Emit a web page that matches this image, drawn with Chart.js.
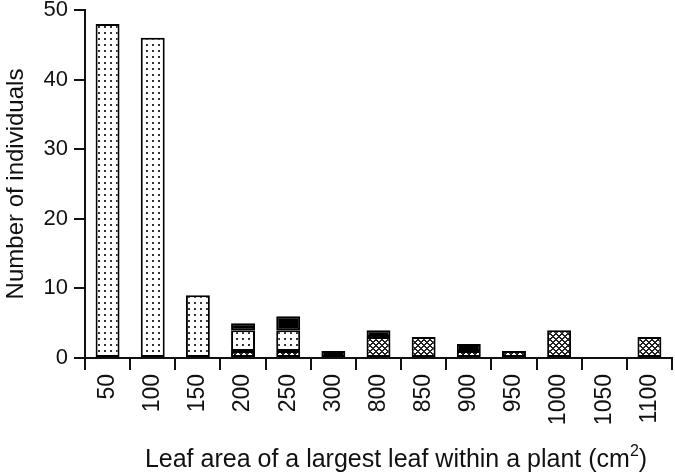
<!DOCTYPE html>
<html>
<head>
<meta charset="utf-8">
<script src="https://cdn.jsdelivr.net/npm/chart.js@4/dist/chart.umd.min.js"></script>
<style>
  html, body { margin: 0; padding: 0; background: #fff; }
  #wrap { width: 675px; height: 474px; }
</style>
</head>
<body>
<div id="wrap"><canvas id="c" width="675" height="474"></canvas></div>
<script>
var categories = ["50", "100", "150", "200", "250", "300", "800", "850", "900", "950", "1000", "1050", "1100"];
var crossData  = [0, 0, 0, 1, 1, 0, 3, 3, 1, 1, 4, 0, 3];
var dotData    = [48, 46, 9, 3, 3, 0, 0, 0, 0, 0, 0, 0, 0];
var blackData  = [0, 0, 0, 1, 2, 1, 1, 0, 1, 0, 0, 0, 0];
var yTicks     = [0, 10, 20, 30, 40, 50];

var ctx = document.getElementById("c").getContext("2d");
var fontFam = "'Liberation Sans', Arial, sans-serif";

// empty segments should not draw a flat box
function noZero(arr) {
  return arr.map(function(v) { return v === 0 ? null : v; });
}

// small tiles for the bar fills
function makeDots() {
  var t = document.createElement("canvas");
  t.width = 6; t.height = 6;
  var g = t.getContext("2d");
  g.fillStyle = "#fff";
  g.fillRect(0, 0, 6, 6);
  g.fillStyle = "#333";
  g.fillRect(2, 2, 2, 2);
  return ctx.createPattern(t, "repeat");
}
function makeCross() {
  var t = document.createElement("canvas");
  t.width = 6; t.height = 6;
  var g = t.getContext("2d");
  g.fillStyle = "#fff";
  g.fillRect(0, 0, 6, 6);
  g.fillStyle = "#222";
  for (var x = 0; x < 6; x++) {
    for (var y = 0; y < 6; y++) {
      var a = (x + y) % 6, b = (x - y + 6) % 6;
      if (a < 2 || b < 2) g.fillRect(x, y, 1, 1);
    }
  }
  return ctx.createPattern(t, "repeat");
}

// x title with superscript
var xTitle = {
  id: "xTitle",
  afterDraw: function(chart) {
    var c = chart.ctx;
    var main = "Leaf area of a largest leaf within a plant (cm";
    c.save();
    c.fillStyle = "#111";
    c.textBaseline = "alphabetic";
    c.font = "25px " + fontFam;
    var w1 = c.measureText(main).width;
    c.font = "16px " + fontFam;
    var w2 = c.measureText("2").width;
    c.font = "25px " + fontFam;
    var w3 = c.measureText(")").width;
    var x = 396 - (w1 + w2 + w3) / 2;
    var y = 467;
    c.fillText(main, x, y);
    c.font = "16px " + fontFam;
    c.fillText("2", x + w1, y - 11);
    c.font = "25px " + fontFam;
    c.fillText(")", x + w1 + w2, y);
    c.restore();
  }
};

var chart = new Chart(ctx, {
  type: "bar",
  data: {
    labels: categories,
    datasets: [
      { label: "a", data: noZero(crossData), backgroundColor: makeCross() },
      { label: "b", data: noZero(dotData), backgroundColor: makeDots() },
      { label: "c", data: noZero(blackData), backgroundColor: "#000" }
    ]
  },
  options: {
    responsive: false,
    animation: false,
    events: [],
    layout: { padding: { top: 0, right: 3, left: 0, bottom: 0 } },
    datasets: {
      bar: {
        borderColor: "#000",
        borderWidth: 2,
        borderSkipped: false,
        barPercentage: 0.53,
        categoryPercentage: 1
      }
    },
    plugins: { legend: { display: false }, tooltip: { enabled: false } },
    scales: {
      x: {
        stacked: true,
        afterFit: function(s) { s.height = 116; s.paddingLeft = 0; s.paddingRight = 0; },
        grid: { display: true, drawOnChartArea: false, offset: true, tickLength: 12, color: "#111", lineWidth: 2 },
        border: { display: true, color: "#111", width: 2 },
        ticks: {
          autoSkip: false, minRotation: 90, maxRotation: 90, padding: 4,
          color: "#111", font: { family: fontFam, size: 23 }
        }
      },
      y: {
        stacked: true,
        min: 0, max: 50,
        afterFit: function(s) { s.width = 85; s.paddingTop = 10; s.paddingBottom = 0; },
        afterBuildTicks: function(s) { s.ticks = yTicks.map(function(v) { return { value: v }; }); },
        grid: { display: true, drawOnChartArea: false, tickLength: 11, color: "#111", lineWidth: 2 },
        border: { display: true, color: "#111", width: 2 },
        ticks: { padding: 6, color: "#111", font: { family: fontFam, size: 22 } },
        title: {
          display: true, text: "Number of individuals", color: "#111",
          font: { family: fontFam, size: 24 }, padding: { top: 2, bottom: 0 }
        }
      }
    }
  },
  plugins: [xTitle]
});
</script>
</body>
</html>
